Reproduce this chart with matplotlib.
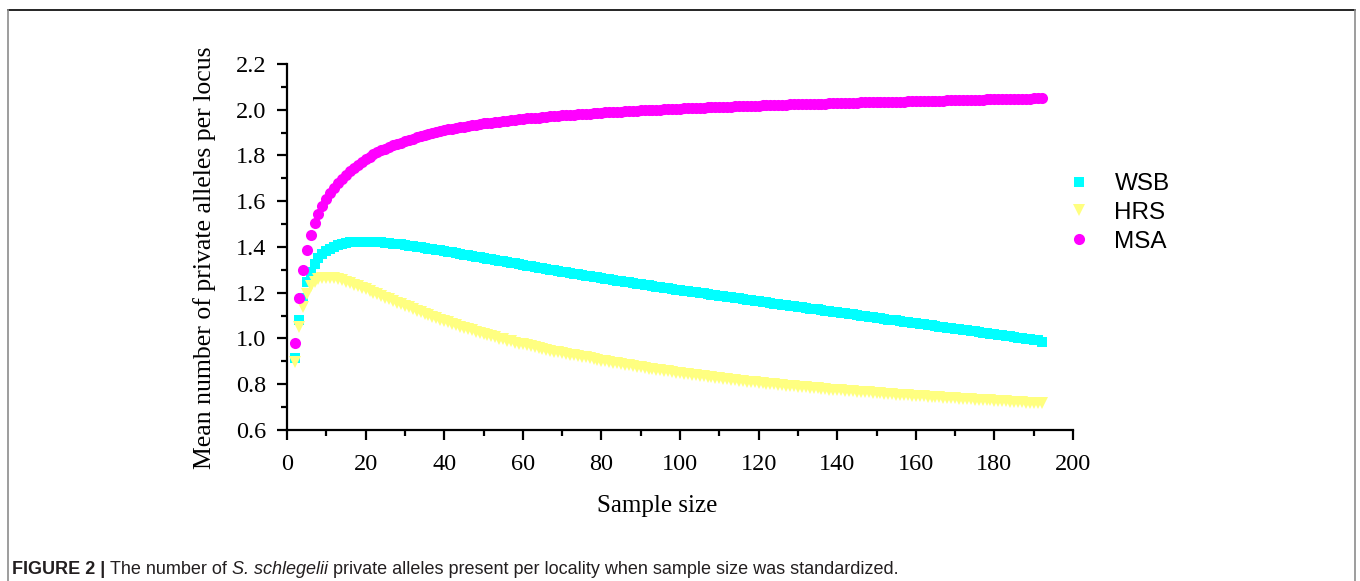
"""Mean number of private alleles per locus vs. standardized sample size."""
import matplotlib
matplotlib.use("Agg")
import matplotlib.pyplot as plt
from matplotlib.lines import Line2D
from matplotlib.ticker import MultipleLocator

# sample sizes 2..192
sample_size = list(range(2, 193))

wsb = [
    0.915, 1.080, 1.177, 1.248, 1.292, 1.325, 1.350, 1.368, 1.382, 1.393,
    1.402, 1.408, 1.413, 1.417, 1.420, 1.422, 1.423, 1.424, 1.424, 1.424,
    1.423, 1.422, 1.421, 1.419, 1.417, 1.415, 1.413, 1.411, 1.409, 1.406,
    1.404, 1.401, 1.399, 1.396, 1.393, 1.390, 1.388, 1.385, 1.382, 1.379,
    1.376, 1.373, 1.370, 1.367, 1.364, 1.361, 1.358, 1.355, 1.352, 1.349,
    1.346, 1.343, 1.340, 1.337, 1.334, 1.331, 1.328, 1.325, 1.322, 1.319,
    1.316, 1.313, 1.310, 1.307, 1.304, 1.301, 1.298, 1.295, 1.292, 1.289,
    1.286, 1.283, 1.281, 1.278, 1.275, 1.272, 1.269, 1.267, 1.264, 1.261,
    1.258, 1.256, 1.253, 1.250, 1.248, 1.245, 1.242, 1.240, 1.237, 1.235,
    1.232, 1.229, 1.227, 1.224, 1.222, 1.219, 1.217, 1.214, 1.212, 1.209,
    1.207, 1.204, 1.202, 1.199, 1.197, 1.194, 1.192, 1.189, 1.187, 1.184,
    1.182, 1.180, 1.177, 1.175, 1.172, 1.170, 1.167, 1.165, 1.163, 1.160,
    1.158, 1.155, 1.153, 1.151, 1.148, 1.146, 1.143, 1.141, 1.139, 1.136,
    1.134, 1.131, 1.129, 1.127, 1.124, 1.122, 1.119, 1.117, 1.115, 1.112,
    1.110, 1.107, 1.105, 1.103, 1.100, 1.098, 1.095, 1.093, 1.091, 1.088,
    1.086, 1.083, 1.081, 1.079, 1.076, 1.074, 1.071, 1.069, 1.067, 1.064,
    1.062, 1.059, 1.057, 1.055, 1.052, 1.050, 1.047, 1.045, 1.043, 1.040,
    1.038, 1.035, 1.033, 1.031, 1.028, 1.026, 1.023, 1.021, 1.019, 1.016,
    1.014, 1.011, 1.009, 1.007, 1.004, 1.002, 0.999, 0.997, 0.995, 0.992,
    0.985,
]

hrs = [
    0.898, 1.050, 1.137, 1.195, 1.228, 1.248, 1.258, 1.263, 1.265, 1.265,
    1.263, 1.259, 1.254, 1.248, 1.242, 1.236, 1.229, 1.222, 1.215, 1.208,
    1.200, 1.193, 1.185, 1.178, 1.171, 1.164, 1.157, 1.150, 1.143, 1.136,
    1.129, 1.122, 1.115, 1.108, 1.101, 1.095, 1.088, 1.082, 1.076, 1.070,
    1.064, 1.058, 1.052, 1.046, 1.041, 1.035, 1.030, 1.025, 1.020, 1.015,
    1.010, 1.005, 1.000, 0.996, 0.991, 0.987, 0.982, 0.978, 0.974, 0.970,
    0.966, 0.962, 0.958, 0.954, 0.950, 0.947, 0.943, 0.940, 0.936, 0.933,
    0.929, 0.926, 0.923, 0.920, 0.917, 0.914, 0.911, 0.908, 0.903, 0.900,
    0.897, 0.894, 0.891, 0.888, 0.885, 0.882, 0.879, 0.877, 0.874, 0.871,
    0.868, 0.866, 0.863, 0.861, 0.858, 0.856, 0.853, 0.851, 0.848, 0.846,
    0.844, 0.841, 0.839, 0.837, 0.835, 0.832, 0.830, 0.828, 0.826, 0.824,
    0.822, 0.820, 0.818, 0.816, 0.814, 0.812, 0.810, 0.808, 0.806, 0.805,
    0.803, 0.801, 0.799, 0.798, 0.796, 0.794, 0.793, 0.791, 0.789, 0.788,
    0.786, 0.785, 0.783, 0.782, 0.780, 0.779, 0.777, 0.776, 0.774, 0.773,
    0.772, 0.770, 0.769, 0.768, 0.766, 0.765, 0.764, 0.762, 0.761, 0.760,
    0.759, 0.757, 0.756, 0.755, 0.754, 0.753, 0.751, 0.750, 0.749, 0.748,
    0.747, 0.746, 0.745, 0.744, 0.743, 0.741, 0.740, 0.739, 0.738, 0.737,
    0.736, 0.735, 0.734, 0.733, 0.732, 0.731, 0.730, 0.729, 0.728, 0.727,
    0.726, 0.725, 0.724, 0.723, 0.722, 0.721, 0.720, 0.719, 0.718, 0.717,
    0.716,
]

msa = [
    0.980, 1.175, 1.300, 1.387, 1.452, 1.505, 1.545, 1.580, 1.610, 1.636,
    1.659, 1.680, 1.699, 1.716, 1.731, 1.745, 1.758, 1.770, 1.785, 1.795,
    1.805, 1.814, 1.822, 1.830, 1.837, 1.844, 1.850, 1.856, 1.862, 1.868,
    1.874, 1.879, 1.884, 1.889, 1.894, 1.898, 1.902, 1.907, 1.911, 1.914,
    1.917, 1.920, 1.923, 1.926, 1.929, 1.932, 1.935, 1.937, 1.940, 1.942,
    1.944, 1.946, 1.948, 1.950, 1.952, 1.954, 1.956, 1.958, 1.960, 1.962,
    1.963, 1.965, 1.966, 1.968, 1.969, 1.971, 1.972, 1.974, 1.975, 1.976,
    1.977, 1.979, 1.980, 1.981, 1.982, 1.983, 1.984, 1.986, 1.987, 1.988,
    1.989, 1.990, 1.991, 1.992, 1.993, 1.994, 1.995, 1.996, 1.997, 1.998,
    1.999, 1.999, 2.000, 2.001, 2.002, 2.003, 2.003, 2.004, 2.005, 2.006,
    2.007, 2.007, 2.008, 2.009, 2.009, 2.010, 2.011, 2.011, 2.012, 2.013,
    2.013, 2.014, 2.015, 2.015, 2.016, 2.016, 2.017, 2.018, 2.018, 2.019,
    2.019, 2.020, 2.021, 2.021, 2.022, 2.022, 2.023, 2.023, 2.024, 2.024,
    2.025, 2.025, 2.026, 2.026, 2.027, 2.027, 2.028, 2.028, 2.029, 2.029,
    2.030, 2.030, 2.031, 2.031, 2.032, 2.032, 2.032, 2.033, 2.033, 2.034,
    2.034, 2.035, 2.035, 2.035, 2.036, 2.036, 2.037, 2.037, 2.037, 2.038,
    2.038, 2.039, 2.039, 2.039, 2.040, 2.040, 2.041, 2.041, 2.041, 2.042,
    2.042, 2.043, 2.043, 2.043, 2.044, 2.044, 2.045, 2.045, 2.045, 2.046,
    2.046, 2.047, 2.047, 2.048, 2.048, 2.048, 2.049, 2.049, 2.050, 2.050,
    2.051,
]

series_labels = ["WSB", "HRS", "MSA"]

SERIF = ["Liberation Serif", "DejaVu Serif"]
SANS = ["Liberation Sans", "DejaVu Sans"]

W, H = 1360, 581
fig = plt.figure(figsize=(W / 100, H / 100), dpi=100)
ax = fig.add_axes([287 / W, 1 - 430 / H, (1073 - 287) / W, (430 - 64) / H])

ax.plot(sample_size, wsb, ls="none", marker="s", ms=6.8, mew=0,
        color="#00ffff", label=series_labels[0])
ax.plot(sample_size, hrs, ls="none", marker="v", ms=8.4, mew=0,
        color="#ffff80", label=series_labels[1])
ax.plot(sample_size, msa, ls="none", marker="o", ms=8.0, mew=0,
        color="#ff00ff", label=series_labels[2])

ax.set_xlim(0, 200)
ax.set_ylim(0.6, 2.2)
ax.xaxis.set_major_locator(MultipleLocator(20))
ax.xaxis.set_minor_locator(MultipleLocator(10))
ax.yaxis.set_major_locator(MultipleLocator(0.2))
ax.yaxis.set_minor_locator(MultipleLocator(0.1))
ax.yaxis.set_major_formatter(plt.FuncFormatter(lambda v, p: f"{v:.1f}"))

for side in ("top", "right"):
    ax.spines[side].set_visible(False)
for side in ("left", "bottom"):
    ax.spines[side].set_linewidth(1.6)
ax.tick_params(which="major", direction="out", length=7.5, width=1.6,
               labelsize=17.5)
ax.tick_params(which="minor", direction="out", length=4.5, width=1.6)
ax.tick_params(axis="x", which="major", pad=9.5)
ax.tick_params(axis="y", which="major", pad=7.5)
for lab in ax.get_xticklabels() + ax.get_yticklabels():
    lab.set_family(SERIF)

# axis titles placed where the reference has them
fig.text(657 / W, 1 - 506 / H, "Sample size", family=SERIF, fontsize=18,
         ha="center", va="center")
fig.text(205 / W, 1 - 258 / H, "Mean number of private alleles per locus",
         family=SERIF, fontsize=18.5, rotation=90, ha="center", va="center")

leg = ax.legend(loc="upper left", bbox_to_anchor=(1067 / W, 1 - 173 / H),
                bbox_transform=fig.transFigure, frameon=False,
                prop={"family": SANS, "size": 17.5}, handletextpad=0.95,
                labelspacing=0.28, handlelength=1.0, borderaxespad=0,
                borderpad=0)

# outer frame of the figure panel
fig.add_artist(Line2D([8 / W, 1355 / W], [1 - 10 / H, 1 - 10 / H],
                      color="black", lw=1.2))
for xp in (8, 1355):
    fig.add_artist(Line2D([xp / W, xp / W], [0, 1 - 10 / H],
                          color="#8c8c8c", lw=1.2))

# caption
cap_y = 1 - 569 / H
fig.canvas.draw()
renderer = fig.canvas.get_renderer()
parts = [("FIGURE 2 | ", "bold", "normal"),
         ("The number of ", "normal", "normal"),
         ("S. schlegelii", "normal", "italic"),
         (" private alleles present per locality when sample size was standardized.",
          "normal", "normal")]
x = 12 / W
for text, weight, style in parts:
    t = fig.text(x, cap_y, text, family=SANS, fontsize=13, weight=weight,
                 style=style, va="center", ha="left", color="#231f20")
    bb = t.get_window_extent(renderer)
    x += bb.width / W

fig.savefig("out.png", dpi=100)
